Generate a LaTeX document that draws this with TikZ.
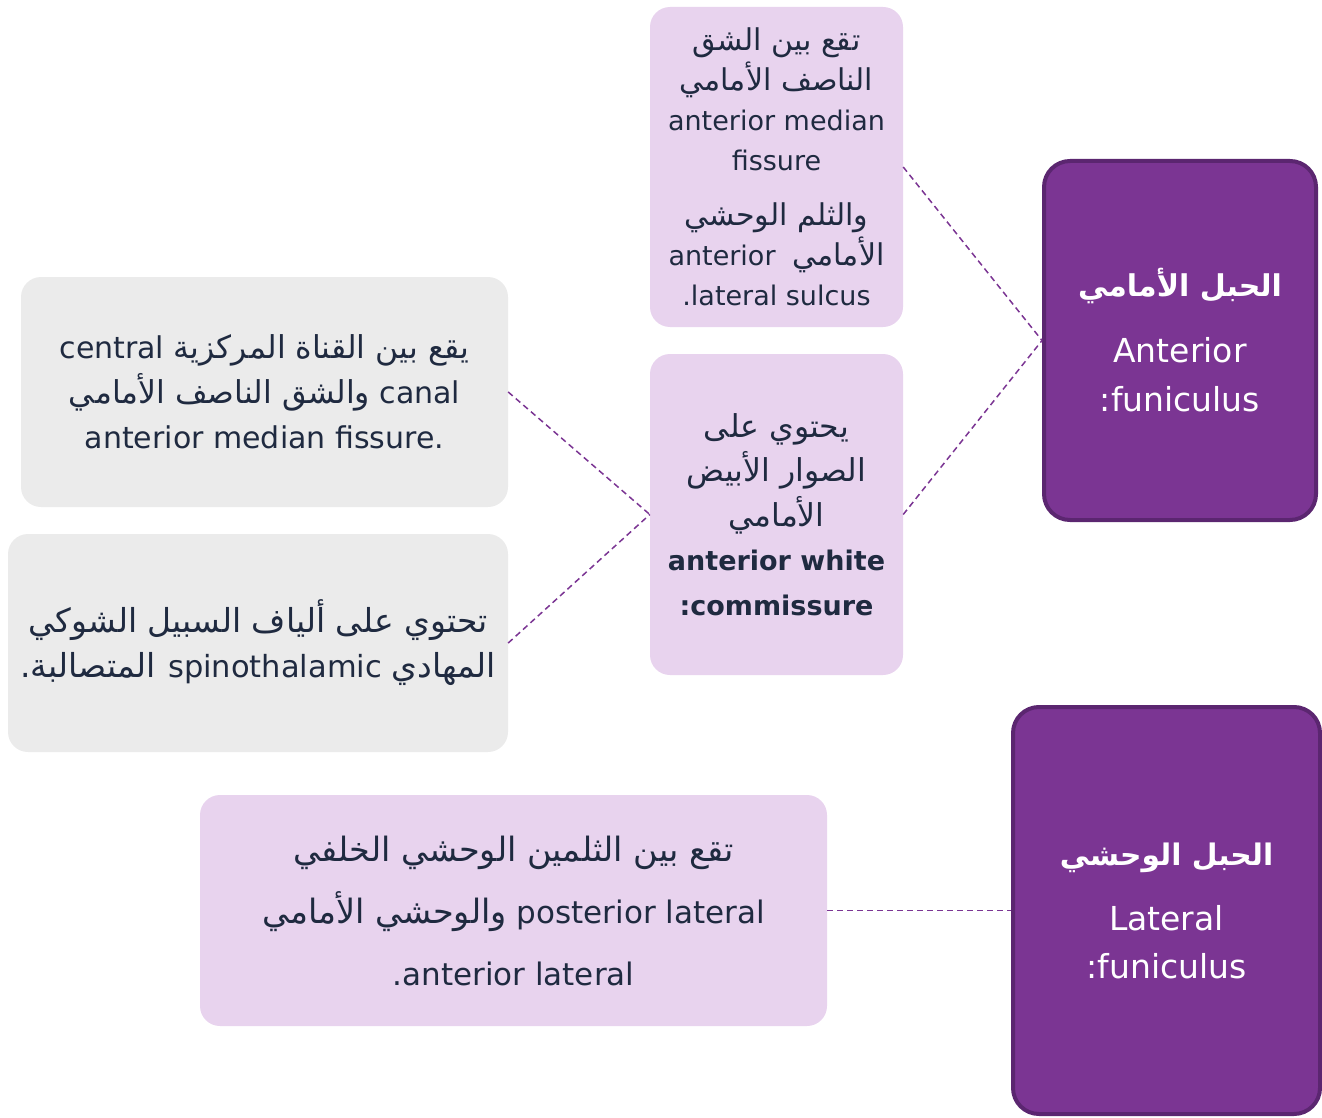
\documentclass[tikz,border=0pt]{standalone}
\usepackage{fontspec}
\setmainfont{DejaVu Sans}
\newfontfamily\arfont[Script=Arabic]{DejaVu Sans}
\TeXXeTstate=1
\def\arsz{30}
\newcommand\ar[1]{{\arfont\fontsize{\arsz}{\baselineskip}\selectfont\beginR #1\endR}}
\definecolor{pinkfill}{HTML}{E8D3EE}
\definecolor{grayfill}{HTML}{EBEBEB}
\definecolor{purplefill}{HTML}{7B3593}
\definecolor{purpleedge}{HTML}{5B2670}
\definecolor{inkdark}{HTML}{1F2A40}
\definecolor{linkcol}{HTML}{7B3593}
\tikzset{
  pinkbox/.style={fill=pinkfill, rounded corners=20pt, align=center, text=inkdark, inner sep=0pt},
  graybox/.style={fill=grayfill, rounded corners=20pt, align=center, text=inkdark, inner sep=0pt},
  mainbox/.style={fill=purplefill, draw=purpleedge, line width=4pt, rounded corners=26pt, align=center, text=white, inner sep=0pt},
  link/.style={draw=linkcol, line width=1.5pt, dash pattern=on 6pt off 4pt}
}
\begin{document}
\begin{tikzpicture}[x=1pt,y=-1pt]
\useasboundingbox (0,0) rectangle (1322,1118);

\node[pinkbox, minimum width=253pt, minimum height=320pt, font=\fontsize{27}{40}\selectfont\def\arsz{30}] (tm) at (776.5,167)
 {\ar{تقع بين الشق}\\ \ar{الناصف الأمامي}\\ anterior median\\ fissure\\[15pt]
  \ar{والثلم الوحشي}\\ anterior\ \ \ar{الأمامي}\\ .lateral sulcus};

\node[pinkbox, minimum width=253pt, minimum height=321pt, font=\fontsize{27}{44.5}\selectfont\def\arsz{31.5}] (mm) at (776.5,514.5)
 {\ar{يحتوي على}\\ \ar{الصوار الأبيض}\\ \ar{الأمامي}\\ \textbf{anterior white}\\ \textbf{:commissure}};

\node[mainbox, minimum width=272pt, minimum height=359pt, font=\fontsize{33}{49}\selectfont\def\arsz{30}] (af) at (1180,340.5)
 {\textbf{\ar{الحبل الأمامي}}\\[17pt] Anterior\\ :funiculus};

\node[graybox, minimum width=487pt, minimum height=230pt, font=\fontsize{30}{45}\selectfont\def\arsz{31.5}] (g1) at (264.5,392)
 {central \ar{يقع بين القناة المركزية}\\ \ar{والشق الناصف الأمامي} canal\\ anterior median fissure.};

\node[graybox, minimum width=500pt, minimum height=218pt, font=\fontsize{30.5}{45}\selectfont\def\arsz{33}] (g2) at (258,643)
 {\ar{تحتوي على ألياف السبيل الشوكي}\\ \ar{المتصالبة.} spinothalamic \ar{المهادي}};

\node[pinkbox, minimum width=627pt, minimum height=231pt, font=\fontsize{31}{62}\selectfont\def\arsz{33.5}] (bp) at (513.5,910.5)
 {\ar{تقع بين الثلمين الوحشي الخلفي}\\ \ar{والوحشي الأمامي} posterior lateral\\ .anterior lateral};

\node[mainbox, minimum width=307pt, minimum height=407pt, font=\fontsize{33}{48}\selectfont\def\arsz{29.7}] (lf) at (1166.5,910.5)
 {\textbf{\ar{الحبل الوحشي}}\\[17pt] Lateral\\ :funiculus};

\draw[link] (tm.east) -- (af.west);
\draw[link] (mm.east) -- (af.west);
\draw[link] (g1.east) -- (mm.west);
\draw[link] (g2.east) -- (mm.west);
\draw[link] (bp.east) -- (lf.west);
\end{tikzpicture}
\end{document}
